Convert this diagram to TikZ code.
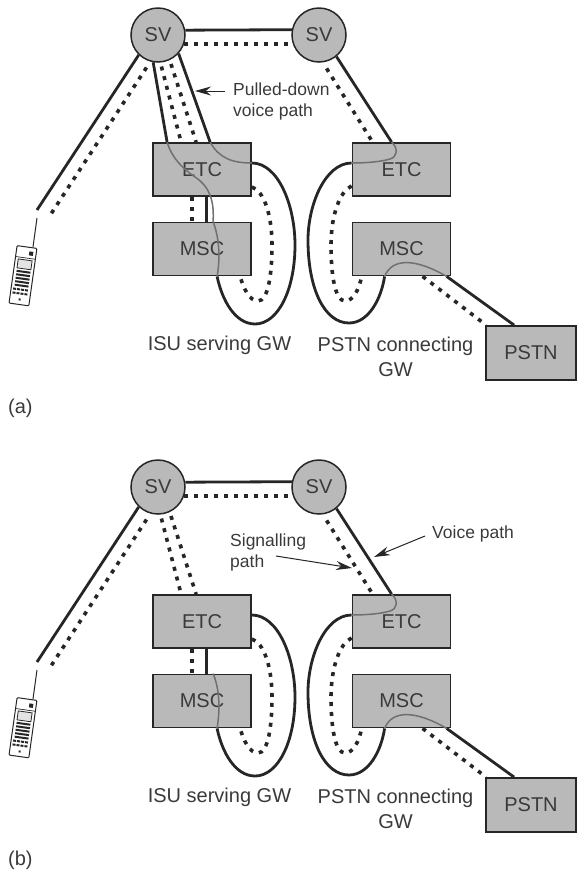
\documentclass[tikz,border=0pt]{standalone}
\usepackage{fontspec}
\setmainfont{Liberation Sans}
\usepackage{xcolor}
\usetikzlibrary{arrows.meta, positioning, calc}
\definecolor{kfill}{HTML}{B9B9B9}
\definecolor{kink}{HTML}{262626}
\definecolor{kcurve}{HTML}{707070}
\definecolor{ktext}{HTML}{3A3A3A}
\tikzset{
  unitbox/.style={draw=kink, fill=kfill, line width=1.8pt, inner sep=0pt, minimum width=98pt, minimum height=53pt,
    text=ktext, font=\fontsize{20}{24}\selectfont},
  satnode/.style={draw=kink, fill=kfill, line width=1.5pt, circle, inner sep=0pt, minimum size=54pt,
    text=ktext, font=\fontsize{20}{24}\selectfont},
  solidpath/.style={draw=kink, line width=2.8pt},
  dotpath/.style={draw=kink, line width=3.6pt, dash pattern=on 4pt off 6pt},
  greypath/.style={draw=kcurve, line width=1.5pt},
  biglabel/.style={text=ktext, inner sep=0pt, align=center, font=\fontsize{20}{25}\selectfont},
  smalllabel/.style={text=ktext, inner sep=0pt, align=left, font=\fontsize{17.5}{21}\selectfont},
  pointer/.style={draw=kink, line width=1pt, -{Stealth[length=16pt, width=9pt]}}
}
\begin{document}
\begin{tikzpicture}[x=1pt, y=-1pt]
\useasboundingbox (0,0) rectangle (577,871);
\foreach \p/\dy in {a/0, b/452} {
\begin{scope}[yshift=-\dy pt, name prefix=\p-]
\node[satnode] (sv1) at (158,35) {SV};
\node[satnode] (sv2) at (319,35) {SV};
\node[unitbox] (etc1) at (202,169.5) {ETC};
\node[unitbox] (msc1) at (202,249) {MSC};
\node[unitbox] (etc2) at (401.5,169.5) {ETC};
\node[unitbox] (msc2) at (401.5,249) {MSC};
\node[unitbox, minimum width=90pt, minimum height=54pt] (pstn) at (531,353) {PSTN};
\node[biglabel] (isulabel) at (219.5,345) {ISU serving GW};
\node[biglabel] (gwlabel) at (395.5,357) {PSTN connecting\\GW};
\coordinate (linkend) at (37,210);
\coordinate (dotend) at (49,217);
\coordinate (mast) at (37,218);
\draw[solidpath] (sv1.10.6) -- (sv2.169.4);
\draw[dotpath] (sv1.-19.5) -- (sv2.199.5);
\draw[solidpath] (sv1.-134) -- (linkend);
\draw[dotpath, shorten <=7pt] (sv1.-106) -- (dotend);
\draw[dotpath, shorten <=4pt] (sv1.-85) -- ([xshift=29pt]etc1.north west);
\draw[dotpath, shorten <=4pt] (sv1.-65) -- ([xshift=44pt]etc1.north west);
\draw[solidpath] ([xshift=54pt]etc1.south west) -- ([xshift=54pt]msc1.north west);
\draw[dotpath] ([xshift=40pt]etc1.south west) -- ([xshift=40pt]msc1.north west);
\draw[solidpath] (sv2.-51) -- ([xshift=40pt]etc2.north west);
\draw[dotpath, shorten <=7pt] (sv2.-82) -- ([xshift=21pt]etc2.north west);
\draw[solidpath] ([xshift=95pt]msc2.south west) -- ([xshift=29pt]pstn.north west);
\draw[dotpath] ([xshift=71pt]msc2.south west) -- ([xshift=1pt]pstn.north west);
\draw[solidpath] ([yshift=6.5pt]etc1.east) .. controls (278,163) and (295,205) .. (295,245)
  .. controls (295,290) and (278,324) .. (255,324) .. controls (235,324) and (222,300) .. ([xshift=65pt]msc1.south west);
\draw[dotpath] ([yshift=-17.5pt]etc1.east) .. controls (264,191) and (272,215) .. (272,245)
  .. controls (272,275) and (268,301) .. (258,301) .. controls (250,301) and (244,290) .. ([xshift=88pt]msc1.south west);
\draw[solidpath] ([yshift=6.5pt]etc2.west) .. controls (325,163) and (308,205) .. (308,240)
  .. controls (308,290) and (325,323) .. (349,323) .. controls (368,323) and (381,300) .. ([xshift=33pt]msc2.south west);
\draw[dotpath] ([yshift=-16.5pt]etc2.west) .. controls (340,191) and (331,215) .. (331,245)
  .. controls (331,275) and (335,301) .. (345,301) .. controls (353,301) and (359,290) .. ([xshift=10pt]msc2.south west);
\draw[greypath] ([xshift=40pt]etc2.north west) .. controls (399,149) and (397,157) .. (390,159)
  .. controls (380,162) and (365,163) .. ([yshift=6.5pt]etc2.west);
\draw[greypath] ([xshift=33pt]msc2.south west) .. controls (392,258) and (415,258) .. ([xshift=95pt]msc2.south west);
\draw[kink, line width=1pt] (mast) -- (33,247);
\begin{scope}[shift={(27,247)}, rotate=-8]
\draw[kink, fill=white, line width=1pt, rounded corners=1pt] (-10,0) rectangle (10,58);
\draw[kink, line width=0.7pt] (-10,11) -- (10,11);
\fill[kink] (3,4) rectangle (7,8);
\draw[kink, fill=kfill!40, line width=0.8pt] (-7,13) rectangle (7,22);
\foreach \k in {25,28.5,32,35.5,39} {
\draw[kink, line width=2pt] (-7,\k) -- (7,\k);
}
\foreach \k in {43,47} {
\draw[kink, line width=2pt, dash pattern=on 3pt off 1pt] (-8,\k) -- (8,\k);
}
\fill[kink] (-1,52) rectangle (1,54);
\end{scope}
\end{scope}
}
\node[biglabel] (caption1) [anchor=west] at (8,408) {(a)};
\node[biglabel] (caption2) [anchor=west] at (8,860) {(b)};
\draw[greypath] ([xshift=15pt]a-etc1.north west) .. controls (172,158) and (182,168) .. (195,177)
  .. controls (212,188) and (214,205) .. ([xshift=61pt]a-msc1.north west)
  .. controls (220,240) and (220,260) .. ([xshift=65pt]a-msc1.south west);
\draw[greypath] ([xshift=58pt]a-etc1.north west) .. controls (219,158) and (232,163) .. ([yshift=6.5pt]a-etc1.east);
\draw[solidpath] (a-sv1.-100) -- ([xshift=15pt]a-etc1.north west);
\draw[solidpath] (a-sv1.-42) -- ([xshift=58pt]a-etc1.north west);
\draw[greypath] ([xshift=61pt]b-msc1.north west) .. controls (220,690) and (220,710) .. ([xshift=65pt]b-msc1.south west);
\node[smalllabel, anchor=west] (pulledlabel) at (233,101.5) {Pulled-down\\voice path};
\coordinate (pulledtip) at (195,91);
\draw[pointer] ([shift={(-8pt,10.5pt)}]pulledlabel.west) -- (pulledtip);
\node[smalllabel, anchor=west] (signallabel) at (230,552) {Signalling\\path};
\coordinate (signaltip) at (352,568);
\draw[pointer] ([shift={(46pt,-4pt)}]signallabel.west) -- (signaltip);
\node[smalllabel, anchor=west] (voicelabel) at (432,534) {Voice path};
\coordinate (voicetip) at (374,557);
\draw[pointer] ([shift={(-7pt,-2pt)}]voicelabel.west) -- (voicetip);
\end{tikzpicture}
\end{document}
